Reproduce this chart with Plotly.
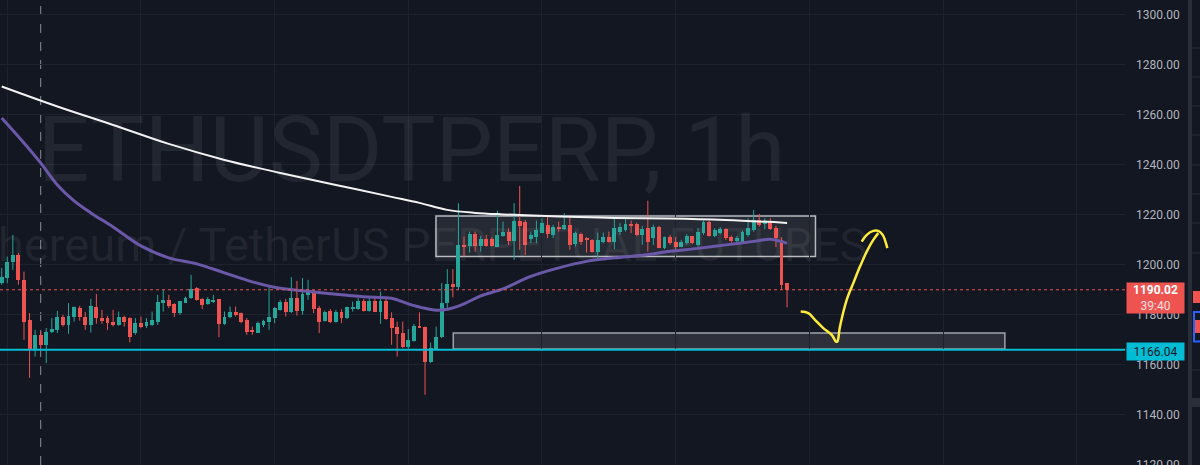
import plotly.graph_objects as go

# ---------------- data (hourly candles, ETHUSDT perp) ----------------
opens = [1192.7, 1194.7, 1201.3, 1204.0, 1194.0, 1178.0, 1166.0, 1172.0, 1168.0, 1173.0,
         1174.0, 1179.3, 1176.0, 1179.0, 1182.8, 1179.3, 1176.0, 1183.3, 1178.7, 1178.7,
         1177.3, 1176.0, 1179.3, 1178.7, 1172.7, 1176.7, 1175.6, 1176.0, 1177.3, 1184.7,
         1186.0, 1184.3, 1180.7, 1184.9, 1186.7, 1190.7, 1186.3, 1184.3, 1185.3, 1186.3,
         1176.3, 1179.3, 1181.3, 1180.7, 1178.0, 1174.0, 1172.9, 1176.0, 1177.3, 1178.7,
         1182.0, 1185.1, 1181.0, 1186.9, 1181.7, 1188.0, 1189.7, 1182.7, 1177.7, 1181.6,
         1177.3, 1181.3, 1178.7, 1182.4, 1182.4, 1185.7, 1181.6, 1185.7, 1181.3, 1185.7,
         1178.7, 1175.3, 1172.9, 1167.0, 1169.7, 1175.7, 1175.3, 1161.3, 1166.4, 1171.1,
         1184.7, 1192.4, 1191.1, 1208.0, 1207.7, 1212.3, 1207.7, 1210.3, 1210.3, 1207.3,
         1211.6, 1213.1, 1209.6, 1217.7, 1217.3, 1210.3, 1211.3, 1212.9, 1216.0, 1212.0,
         1215.3, 1214.4, 1216.0, 1208.4, 1212.4, 1210.7, 1210.0, 1205.3, 1209.3, 1211.3,
         1209.3, 1213.3, 1214.0, 1216.4, 1216.4, 1212.0, 1214.7, 1210.7, 1215.1, 1206.7,
         1211.3, 1209.3, 1207.3, 1208.7, 1211.6, 1208.0, 1212.7, 1217.3, 1211.6, 1212.9,
         1214.3, 1211.3, 1209.7, 1209.3, 1212.0, 1214.0, 1218.0, 1216.4, 1217.7, 1214.7,
         1210.0, 1192.7]
highs = [1198.8, 1203.3, 1212.0, 1204.8, 1197.3, 1180.7, 1174.0, 1173.3, 1174.7, 1178.7,
         1181.6, 1180.0, 1184.7, 1183.3, 1183.6, 1181.2, 1186.4, 1188.4, 1182.0, 1179.6,
         1182.0, 1181.3, 1179.6, 1179.0, 1178.7, 1179.3, 1178.7, 1181.3, 1188.0, 1190.0,
         1188.0, 1184.7, 1185.6, 1187.3, 1196.0, 1191.1, 1186.7, 1187.1, 1188.0, 1186.3,
         1181.3, 1183.3, 1183.3, 1180.9, 1178.7, 1175.3, 1177.3, 1178.0, 1191.3, 1183.1,
         1186.0, 1186.4, 1195.1, 1193.6, 1194.7, 1194.0, 1190.0, 1183.6, 1181.7, 1182.3,
         1182.0, 1182.3, 1183.3, 1185.3, 1186.7, 1186.3, 1187.3, 1187.3, 1189.3, 1187.3,
         1181.0, 1177.3, 1177.3, 1174.3, 1176.4, 1181.0, 1175.3, 1168.9, 1175.3, 1192.7,
         1198.3, 1198.3, 1224.7, 1211.3, 1213.3, 1213.3, 1211.6, 1212.0, 1211.1, 1221.7,
         1217.3, 1214.7, 1224.7, 1231.6, 1218.0, 1213.3, 1217.7, 1218.7, 1219.3, 1216.0,
         1217.3, 1220.7, 1218.7, 1213.3, 1212.9, 1211.1, 1210.3, 1212.9, 1212.9, 1213.3,
         1218.7, 1216.7, 1219.1, 1217.7, 1216.9, 1215.6, 1225.7, 1216.0, 1215.6, 1211.3,
         1212.0, 1211.1, 1210.0, 1212.3, 1211.6, 1214.7, 1217.7, 1217.6, 1214.7, 1215.1,
         1214.7, 1211.7, 1211.6, 1213.7, 1218.7, 1222.0, 1220.4, 1218.7, 1218.7, 1215.6,
         1211.1, 1192.7]
lows = [1192.0, 1192.7, 1198.0, 1192.0, 1170.0, 1154.8, 1163.3, 1166.7, 1160.7, 1172.7,
        1172.7, 1175.3, 1172.4, 1177.3, 1177.7, 1174.0, 1172.9, 1176.4, 1176.4, 1174.0,
        1175.3, 1175.6, 1175.3, 1169.0, 1172.0, 1174.7, 1174.7, 1175.6, 1176.0, 1181.3,
        1182.7, 1179.1, 1180.0, 1184.7, 1186.4, 1185.7, 1182.3, 1184.0, 1184.7, 1171.0,
        1176.0, 1178.7, 1179.3, 1176.7, 1172.0, 1172.0, 1172.7, 1175.1, 1174.0, 1176.7,
        1181.7, 1179.3, 1180.7, 1179.7, 1180.0, 1186.0, 1180.7, 1172.7, 1177.3, 1176.7,
        1176.9, 1176.7, 1178.3, 1181.3, 1182.0, 1181.3, 1181.3, 1181.1, 1176.4, 1178.0,
        1168.0, 1163.3, 1166.7, 1166.4, 1169.3, 1174.7, 1148.0, 1160.7, 1166.0, 1170.7,
        1182.7, 1187.0, 1190.0, 1203.3, 1204.9, 1205.3, 1205.3, 1207.3, 1207.3, 1207.3,
        1211.3, 1208.0, 1202.0, 1206.0, 1204.0, 1208.7, 1208.7, 1212.7, 1210.7, 1210.7,
        1213.3, 1214.0, 1206.0, 1207.3, 1208.0, 1204.9, 1204.9, 1202.0, 1208.7, 1208.9,
        1206.3, 1212.0, 1213.3, 1212.7, 1211.6, 1208.0, 1205.3, 1208.0, 1206.7, 1206.3,
        1208.0, 1205.3, 1207.1, 1208.0, 1208.3, 1207.3, 1212.0, 1211.3, 1211.1, 1212.3,
        1210.0, 1208.9, 1208.9, 1208.9, 1211.3, 1213.3, 1215.3, 1214.3, 1214.0, 1207.1,
        1190.0, 1183.0]
closes = [1195.3, 1201.3, 1204.0, 1194.0, 1177.3, 1166.0, 1172.0, 1168.0, 1173.3, 1174.4,
          1179.3, 1176.0, 1179.7, 1183.0, 1179.2, 1176.0, 1183.6, 1178.7, 1177.7, 1176.7,
          1176.0, 1179.3, 1177.3, 1171.0, 1176.7, 1175.3, 1177.3, 1178.0, 1185.3, 1186.0,
          1183.7, 1180.7, 1185.6, 1186.9, 1190.4, 1186.0, 1184.0, 1186.4, 1186.0, 1176.3,
          1179.3, 1181.3, 1180.0, 1177.3, 1173.3, 1173.0, 1176.9, 1177.7, 1179.1, 1182.7,
          1185.1, 1181.0, 1186.9, 1181.7, 1188.4, 1189.7, 1182.3, 1177.3, 1181.3, 1177.3,
          1181.3, 1178.7, 1183.1, 1183.3, 1185.7, 1181.7, 1185.7, 1181.3, 1185.7, 1178.3,
          1174.7, 1172.4, 1167.0, 1170.0, 1175.7, 1174.9, 1161.3, 1166.7, 1171.3, 1184.7,
          1192.4, 1191.3, 1208.0, 1207.3, 1212.3, 1207.7, 1210.3, 1207.7, 1207.6, 1212.0,
          1213.1, 1209.6, 1217.7, 1215.7, 1208.0, 1212.0, 1214.0, 1216.7, 1212.3, 1215.3,
          1214.7, 1216.0, 1208.0, 1212.7, 1209.3, 1210.0, 1205.3, 1210.0, 1211.3, 1209.3,
          1214.7, 1215.3, 1216.3, 1215.7, 1212.0, 1214.3, 1209.3, 1215.3, 1206.7, 1211.1,
          1208.7, 1207.3, 1209.3, 1211.6, 1208.7, 1213.3, 1217.1, 1211.6, 1214.0, 1214.3,
          1210.7, 1209.7, 1210.7, 1213.3, 1214.7, 1218.0, 1216.0, 1216.9, 1214.3, 1210.7,
          1192.0, 1190.02]

# moving averages (candle index, value)
ma_slow_idx = [0, 10, 20, 30, 40, 50, 60, 70, 75, 80, 85, 90, 100, 110, 120, 130, 141]
ma_slow_val = [1271.4, 1263.4, 1256.0, 1248.4, 1242.0, 1236.8, 1232.0, 1227.2, 1224.8,
               1222.0, 1220.8, 1220.2, 1219.4, 1218.8, 1218.6, 1218.0, 1216.8]
ma_fast_idx = [0, 4, 7, 10, 13, 16, 20, 25, 30, 35, 40, 45, 50, 55, 60, 65, 70, 73, 76,
               78, 80, 83, 86, 90, 95, 100, 105, 110, 115, 120, 125, 130, 135, 138, 141]
ma_fast_val = [1258.8, 1248.8, 1240.8, 1232.0, 1225.6, 1220.8, 1215.2, 1207.6, 1202.8,
               1200.4, 1196.8, 1193.2, 1190.6, 1189.4, 1188.2, 1187.2, 1186.6, 1184.4,
               1182.6, 1181.8, 1182.2, 1184.4, 1187.6, 1190.4, 1195.4, 1198.8, 1201.4,
               1202.8, 1203.8, 1205.4, 1206.6, 1208.0, 1209.4, 1210.2, 1208.6]

last_price = 1190.02
countdown = "39:40"
support_level = 1166.04
session_marker = 7
range_box = dict(x0=77.97, x1=146.1, y0=1203.3, y1=1219.6)
demand_box = dict(x0=81.07, x1=180.1, y0=1166.3, y1=1172.7)
arrow_x = [143.45, 144.81, 146.01, 147.50, 149.01, 149.78, 150.02, 150.50, 151.71,
           152.89, 154.09, 155.30, 156.48, 157.38]
arrow_y = [1181.3, 1180.7, 1178.0, 1174.7, 1172.0, 1169.3, 1169.3, 1175.3, 1186.0,
           1192.7, 1199.3, 1205.3, 1210.0, 1212.7]
hook_x = [154.40, 155.30, 156.48, 157.38, 158.17, 159.0]
hook_y = [1209.3, 1212.0, 1213.6, 1213.6, 1212.0, 1206.7]
symbol = "ETHUSDTPERP, 1h"
description = "Ethereum / TetherUS PERPETUAL FUTURES"

# ---------------- styling ----------------
BG = "#131722"
GRID = "#1e222d"
UP = "#26a69a"
DOWN = "#ef5350"
W, H = 1200, 465
PLOT_R = 1125 / W

idx = list(range(len(opens)))
is_up = [c >= o for o, c in zip(opens, closes)]

fig = go.Figure()

# watermark (drawn first, under everything)
fig.add_trace(go.Scatter(
    x=[73.6, 73.6], y=[1242.6, 1206.4], mode="text",
    text=[symbol, description],
    textfont=dict(family="Roboto", size=[91, 47], color="rgba(255,255,255,0.065)"),
    textposition="middle center", hoverinfo="skip", cliponaxis=True))

# wicks
for up, col in ((True, UP), (False, DOWN)):
    wx, wy = [], []
    for i in idx:
        if is_up[i] == up:
            wx += [i, i, None]
            wy += [lows[i], highs[i], None]
    fig.add_trace(go.Scatter(x=wx, y=wy, mode="lines",
                             line=dict(color=col, width=1), hoverinfo="skip"))

# bodies
base = [min(o, c) for o, c in zip(opens, closes)]
height = [max(abs(c - o), 0.4) for o, c in zip(opens, closes)]
fig.add_trace(go.Bar(x=idx, y=height, base=base, width=0.7,
                     marker=dict(color=[UP if u else DOWN for u in is_up], line=dict(width=0)),
                     hoverinfo="skip"))

# moving averages
fig.add_trace(go.Scatter(x=ma_fast_idx, y=ma_fast_val, mode="lines",
                         line=dict(color="#6c58a8", width=3, shape="spline"), hoverinfo="skip"))
fig.add_trace(go.Scatter(x=ma_slow_idx, y=ma_slow_val, mode="lines",
                         line=dict(color="#f2f2f2", width=2, shape="spline"), hoverinfo="skip"))

# hand-drawn arrow
for xs, ys in ((arrow_x, arrow_y), (hook_x, hook_y)):
    fig.add_trace(go.Scatter(x=xs, y=ys, mode="lines",
                             line=dict(color="#ffeb3b", width=2.5, shape="spline"),
                             hoverinfo="skip"))

shapes = [
    dict(type="rect", xref="x", yref="y", layer="below",
         fillcolor="rgba(149,152,161,0.15)", line=dict(color="#b8bac0", width=1.5), **range_box),
    dict(type="rect", xref="x", yref="y", layer="below",
         fillcolor="rgba(149,152,161,0.2)", line=dict(color="#9fa2aa", width=1.5), **demand_box),
    dict(type="line", xref="x", yref="paper", x0=session_marker, x1=session_marker, y0=0, y1=1,
         line=dict(color="rgba(178,181,190,0.75)", width=1, dash="dash"), layer="below"),
    dict(type="line", xref="paper", yref="y", x0=0, x1=PLOT_R, y0=support_level, y1=support_level,
         line=dict(color="#00bcd4", width=2), layer="above"),
    dict(type="line", xref="paper", yref="y", x0=0, x1=PLOT_R, y0=last_price, y1=last_price,
         line=dict(color=DOWN, width=1, dash="dot"), layer="above"),
    # neighbouring pane edge on the far right
    dict(type="rect", xref="paper", yref="paper", x0=1188 / W, x1=1192 / W, y0=0, y1=1,
         fillcolor="#2a2e39", line=dict(width=0)),
]
for py in [48, 77, 106, 135, 165, 194, 223, 253, 370]:
    shapes.append(dict(type="line", xref="paper", yref="paper", x0=1192 / W, x1=1,
                       y0=1 - py / H, y1=1 - py / H, line=dict(color="#2a2e39", width=1)))
shapes.append(dict(type="rect", xref="paper", yref="paper", x0=1192 / W, x1=1, y0=1 - 407 / H,
                   y1=1 - 398 / H, fillcolor="#2a2e39", line=dict(width=0)))
shapes.append(dict(type="rect", xref="paper", yref="paper", x0=1193 / W, x1=1, y0=1 - 303 / H,
                   y1=1 - 291 / H, fillcolor=DOWN, line=dict(width=0)))
shapes.append(dict(type="rect", xref="paper", yref="paper", x0=1194 / W, x1=1.01, y0=1 - 333 / H,
                   y1=1 - 320 / H, fillcolor=DOWN, line=dict(width=0)))
shapes.append(dict(type="rect", xref="paper", yref="paper", x0=1194 / W, x1=1.01, y0=1 - 341.5 / H,
                   y1=1 - 312 / H, fillcolor="rgba(0,0,0,0)", line=dict(color="#2962ff", width=2)))

annotations = [
    dict(xref="paper", yref="paper", x=1126 / W, y=1 - 297.7 / H, xanchor="left", yanchor="middle",
         text=f"<b>{last_price:.2f}</b><br><span style='color:#fde0e0'>{countdown}</span>",
         showarrow=False, align="center", bgcolor=DOWN, width=53, height=26, borderpad=2,
         font=dict(family="Roboto", size=12, color="#ffffff")),
    dict(xref="paper", yref="paper", x=1126 / W, y=1 - 351 / H, xanchor="left", yanchor="middle",
         text=f"{support_level:.2f}", showarrow=False, align="center", bgcolor="#00bcd4",
         width=53, height=13, borderpad=2,
         font=dict(family="Roboto", size=12, color="#131722")),
]

fig.update_layout(
    width=W, height=H, margin=dict(l=0, r=0, t=0, b=0, autoexpand=False),
    paper_bgcolor=BG, plot_bgcolor=BG, showlegend=False, hovermode=False,
    shapes=shapes, annotations=annotations, bargap=0,
    xaxis=dict(domain=[0, PLOT_R], range=[-0.305, 201.67], showticklabels=False,
               showgrid=True, gridcolor=GRID, gridwidth=1, tick0=25, dtick=24,
               zeroline=False, showline=False, fixedrange=True, automargin=False),
    yaxis=dict(side="right", range=[1119.9, 1306], tick0=1120, dtick=20, tickformat=".2f",
               showgrid=True, gridcolor=GRID, gridwidth=1, zeroline=False, showline=False,
               ticks="", ticklabelstandoff=10, ticklabeloverflow="allow", automargin=False,
               tickfont=dict(family="Roboto", size=12, color="#b2b5be"), fixedrange=True),
)

fig.write_html("out.html")
